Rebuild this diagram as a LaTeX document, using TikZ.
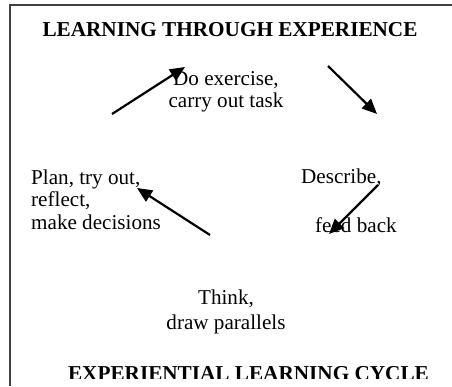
\documentclass[tikz,border=0pt]{standalone}
\usepackage{fontspec}
\setmainfont{Liberation Serif}
\usetikzlibrary{arrows.meta}
\begin{document}
\begin{tikzpicture}[x=1bp,y=-1bp]

    \tikzset{
      lbl/.style={
        inner sep=0pt,
        font=\fontsize{21.2}{22.5}\selectfont,
      },
      heading/.style={
        inner sep=0pt,
        font=\fontsize{21.3}{22.5}\selectfont\bfseries,
      },
      cyc/.style={
        line width=2.2bp,
        -{Triangle[length=15bp,width=13bp]},
      },
    }
    \useasboundingbox (0,0) rectangle (452,386);
	\draw[color ={black!75},line width=1.3bp] (452,5)--(10,5)--(10,386);
	\node[heading,anchor = base] (top) at (230,36) {LEARNING THROUGH EXPERIENCE};
	\node[lbl,anchor = base,align=center] (doit) at (226,107.5) {Do exercise,\\carry out task};
	\node[lbl,anchor = base west,align=left] (plan) at (31,229) {Plan, try out,\\reflect,\\make decisions};
	\node[lbl,anchor = base west,align=left] (descr) at (301,232) {Describe,\\[26bp]\hspace*{14bp}feed back};
	\node[lbl,anchor = base,align=center] (think) at (226,329) {Think,\\[2.5bp]draw parallels};
	\begin{scope}
	\clip (0,0) rectangle (452,378);
	\node[heading,anchor = base] (bottom) at (248.5,380) {EXPERIENTIAL LEARNING CYCLE};
	\end{scope}
	\coordinate (p1) at (112,114);
	\coordinate (q1) at (185,67);
	\coordinate (p2) at (328,66);
	\coordinate (q2) at (377,114);
	\coordinate (p3) at (378,185);
	\coordinate (q3) at (329,234);
	\coordinate (p4) at (210,235);
	\coordinate (q4) at (137,188);
	\draw[cyc] (p1)--(q1);
	\draw[cyc] (p2)--(q2);
	\draw[cyc] (p3)--(q3);
	\draw[cyc] (p4)--(q4);

\end{tikzpicture}
\end{document}
